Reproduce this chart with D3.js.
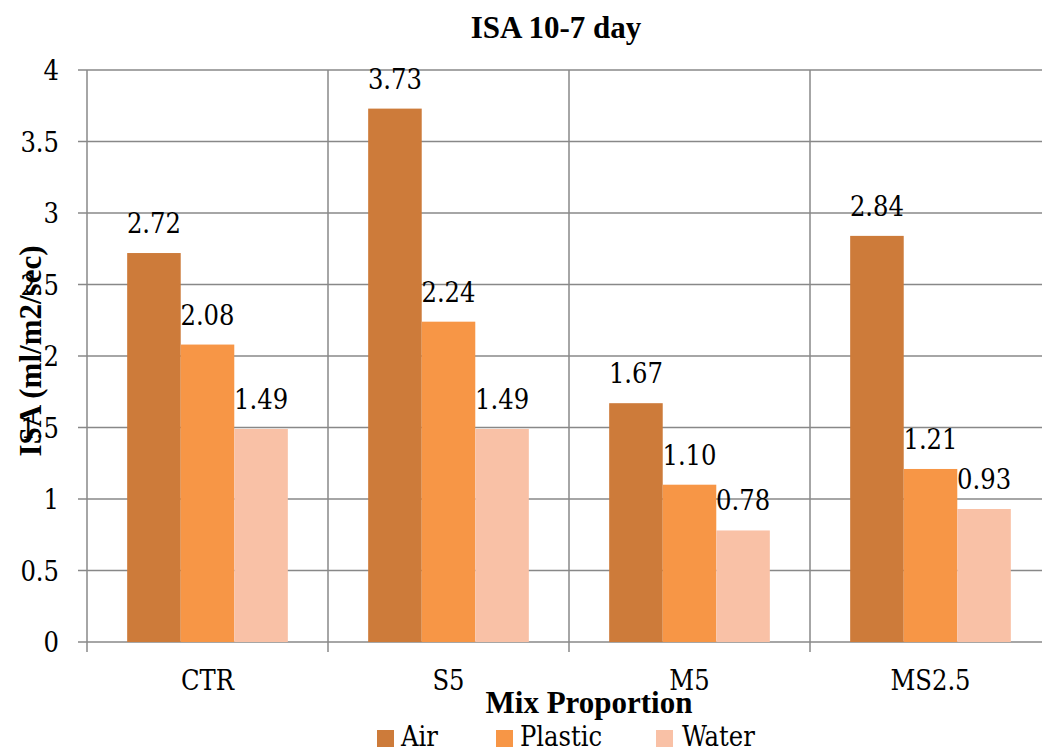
<!DOCTYPE html>
<html>
<head>
<meta charset="utf-8">
<script src="https://cdn.jsdelivr.net/npm/d3@7/dist/d3.min.js"></script>
<style>
  html, body { margin: 0; padding: 0; background: #fff; overflow: hidden; }
  svg { display: block; }
  svg text { font-family: "Liberation Serif", "Times New Roman", serif; }
  svg text.reg { font-family: "DejaVu Serif Condensed", "DejaVu Serif", serif; font-stretch: condensed; }
</style>
</head>
<body>
<svg id="chart" width="1042" height="750"></svg>
<script>
// Mix proportions and ISA readings (ml/m2/sec) at 10-7 day
const categories = ["CTR", "S5", "M5", "MS2.5"];
const seriesNames = ["Air", "Plastic", "Water"];
const airValues = [2.72, 3.73, 1.67, 2.84];
const plasticValues = [2.08, 2.24, 1.10, 1.21];
const waterValues = [1.49, 1.49, 0.78, 0.93];
const yTicks = [0, 0.5, 1, 1.5, 2, 2.5, 3, 3.5, 4];
const seriesColors = ["#CD7B3A", "#F79646", "#F9C1A6"];

const seriesValues = [airValues, plasticValues, waterValues];

const svg = d3.select("#chart");
const plotLeft = 87, plotRight = 1051, plotTop = 70, plotBottom = 642;
const gridColor = "#888888";
const regSize = 27;

const x0 = d3.scaleBand().domain(categories).range([plotLeft, plotRight]).padding(0);
const x1 = d3.scaleBand().domain(seriesNames).range([0, x0.bandwidth()])
  .paddingInner(0).paddingOuter(0.75);
const y = d3.scaleLinear().domain([0, 4]).range([plotBottom, plotTop]);

// Horizontal gridlines with outward tick stubs on the left
svg.append("g").selectAll("line").data(yTicks).join("line")
  .attr("x1", plotLeft - 9).attr("x2", plotRight)
  .attr("y1", d => y(d)).attr("y2", d => y(d))
  .attr("stroke", gridColor).attr("stroke-width", 1.5);

// Vertical gridlines on category boundaries, extended below the axis as ticks
const boundaries = categories.map(c => x0(c)).concat([plotRight]);
svg.append("g").selectAll("line").data(boundaries).join("line")
  .attr("x1", d => d).attr("x2", d => d)
  .attr("y1", plotTop)
  .attr("y2", plotBottom + 10)
  .attr("stroke", gridColor).attr("stroke-width", 1.5);

// Y tick labels
svg.append("g").selectAll("text").data(yTicks).join("text")
  .attr("class", "reg")
  .attr("x", 59).attr("y", d => y(d) + 10)
  .attr("text-anchor", "end")
  .attr("font-size", regSize).attr("fill", "#000")
  .text(d => d);

// Bars
const groups = svg.append("g").selectAll("g").data(categories).join("g")
  .attr("transform", c => `translate(${x0(c)},0)`);

groups.selectAll("rect")
  .data((c, ci) => seriesNames.map((s, si) => ({ s, si, v: seriesValues[si][ci] })))
  .join("rect")
  .attr("x", d => x1(d.s))
  .attr("width", x1.bandwidth())
  .attr("y", d => y(d.v))
  .attr("height", d => y(0) - y(d.v))
  .attr("fill", d => seriesColors[d.si]);

// Value labels
groups.selectAll("text")
  .data((c, ci) => seriesNames.map((s, si) => ({ s, si, v: seriesValues[si][ci] })))
  .join("text")
  .attr("class", "reg")
  .attr("x", d => x1(d.s) + x1.bandwidth() / 2)
  .attr("y", d => y(d.v) - 20)
  .attr("text-anchor", "middle")
  .attr("font-size", regSize).attr("fill", "#000")
  .text(d => d.v.toFixed(2));

// Category labels
svg.append("g").selectAll("text").data(categories).join("text")
  .attr("class", "reg")
  .attr("x", c => x0(c) + x0.bandwidth() / 2)
  .attr("y", 690)
  .attr("text-anchor", "middle")
  .attr("font-size", regSize).attr("fill", "#000")
  .text(c => c);

// Title
svg.append("text")
  .attr("x", 556).attr("y", 38)
  .attr("text-anchor", "middle")
  .attr("font-size", 31).attr("font-weight", "bold")
  .text("ISA 10-7 day");

// Axis titles
svg.append("text")
  .attr("x", 589).attr("y", 713)
  .attr("text-anchor", "middle")
  .attr("font-size", 31).attr("font-weight", "bold")
  .text("Mix Proportion");

svg.append("text")
  .attr("transform", "translate(41,351) rotate(-90)")
  .attr("text-anchor", "middle")
  .attr("font-size", 31).attr("font-weight", "bold")
  .text("ISA (ml/m2/sec)");

// Legend
const legendX = [377, 496, 656];
const legend = svg.append("g").selectAll("g").data(seriesNames).join("g")
  .attr("transform", (d, i) => `translate(${legendX[i]},730)`);
legend.append("rect")
  .attr("width", 17).attr("height", 17)
  .attr("fill", (d, i) => seriesColors[i]);
legend.append("text")
  .attr("class", "reg")
  .attr("x", (d, i) => i === 2 ? 26 : 24).attr("y", 16)
  .attr("font-size", regSize).attr("fill", "#000")
  .text(d => d);
</script>
</body>
</html>
